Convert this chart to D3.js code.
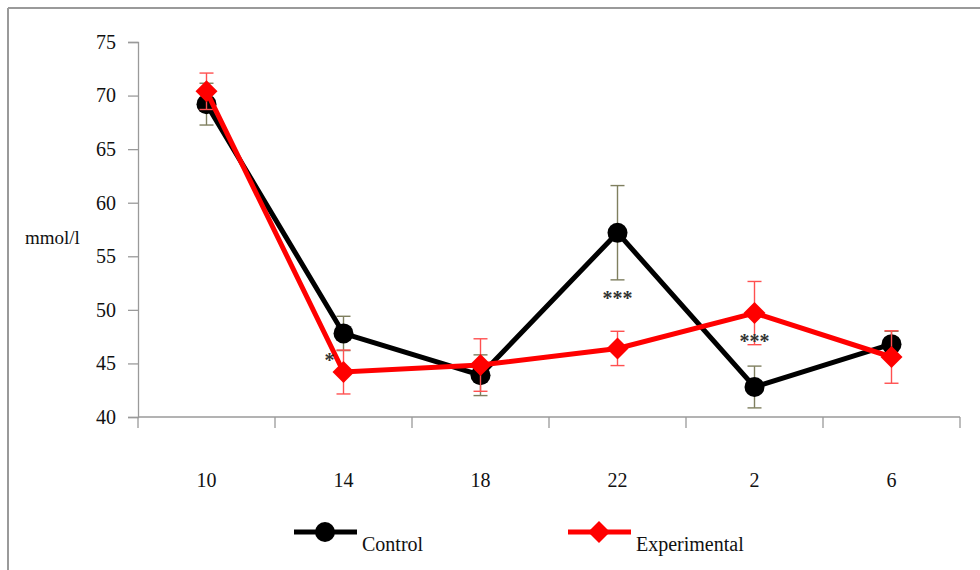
<!DOCTYPE html>
<html><head><meta charset="utf-8">
<script src="https://cdn.jsdelivr.net/npm/d3@7"></script>
<style>
html,body{margin:0;padding:0;background:#fff;}
</style></head>
<body>
<svg id="chart" width="980" height="570"></svg>
<script>
const categories = ["10","14","18","22","2","6"];
const controlValues = [69.2, 47.8, 43.9, 57.2, 42.8, 46.8];
const controlErrors = [1.95, 1.6, 1.9, 4.4, 1.95, 1.2];
const experimentalValues = [70.4, 44.2, 44.85, 46.4, 49.7, 45.6];
const experimentalErrors = [1.7, 2.05, 2.45, 1.6, 2.95, 2.45];
const yTicks = [40, 45, 50, 55, 60, 65, 70, 75];
const annotations = [
  {cat: "14", value: 44.7, text: "*", dx: -14},
  {cat: "22", value: 50.5, text: "***", dx: 0},
  {cat: "2", value: 46.4, text: "***", dx: 0}
];
const legendItems = ["Control", "Experimental"];

const FONT = "Liberation Serif, Tinos, Times New Roman, DejaVu Serif, Noto Serif, serif";
const svg = d3.select("#chart");

// outer frame (left and top edges)
svg.append("line").attr("x1", 8).attr("y1", 8).attr("x2", 980).attr("y2", 8)
  .attr("stroke", "#9a9a9a").attr("stroke-width", 2);
svg.append("line").attr("x1", 8).attr("y1", 8).attr("x2", 8).attr("y2", 570)
  .attr("stroke", "#9a9a9a").attr("stroke-width", 2);

const x = d3.scaleBand().domain(categories).range([138, 960]);
const y = d3.scaleLinear().domain([40, 75]).range([417, 42]);
const cx = c => x(c) + x.bandwidth() / 2;

// Y axis
const yAxis = svg.append("g").attr("transform", "translate(138,0)")
  .call(d3.axisLeft(y).tickValues(yTicks).tickSize(10).tickPadding(12));
yAxis.select(".domain").attr("stroke", "#9a9a9a").attr("stroke-width", 1.3);
yAxis.selectAll(".tick line").attr("stroke", "#9a9a9a").attr("stroke-width", 1.3);
yAxis.selectAll(".tick text").attr("fill", "#111");

// X axis
const xAxis = svg.append("g").attr("transform", "translate(0,417)")
  .call(d3.axisBottom(x).tickSize(0).tickPadding(0));
xAxis.select(".domain").remove();
xAxis.selectAll(".tick text").remove();
xAxis.append("line").attr("x1", 138).attr("x2", 960).attr("y1", 0).attr("y2", 0)
  .attr("stroke", "#9a9a9a").attr("stroke-width", 1.3);
const boundaries = categories.map(c => x(c)).concat([x(categories[categories.length-1]) + x.bandwidth()]);
xAxis.selectAll("line.bt").data(boundaries).enter().append("line")
  .attr("class", "bt").attr("x1", d => d).attr("x2", d => d).attr("y1", 0).attr("y2", 11)
  .attr("stroke", "#9a9a9a").attr("stroke-width", 1.3);
svg.selectAll("text.xl").data(categories).enter().append("text")
  .attr("class", "xl").attr("x", d => cx(d)).attr("y", 487)
  .attr("text-anchor", "middle").attr("fill", "#111").text(d => d);

// Y label
svg.append("text").attr("class", "yl").attr("x", 25).attr("y", 244).attr("fill", "#111").text("mmol/l");

function drawErrors(vals, errs, color) {
  const g = svg.append("g").attr("stroke", color).attr("stroke-width", 1.4);
  categories.forEach((c, i) => {
    const xc = cx(c);
    const y1 = y(vals[i] + errs[i]), y2 = y(vals[i] - errs[i]);
    g.append("line").attr("x1", xc).attr("x2", xc).attr("y1", y1).attr("y2", y2);
    g.append("line").attr("x1", xc - 7).attr("x2", xc + 7).attr("y1", y1).attr("y2", y1);
    g.append("line").attr("x1", xc - 7).attr("x2", xc + 7).attr("y1", y2).attr("y2", y2);
  });
}
const line = d3.line().x((d, i) => cx(categories[i])).y(d => y(d));

// Control
drawErrors(controlValues, controlErrors, "#7f7f5f");
svg.append("path").datum(controlValues).attr("d", line).attr("fill", "none")
  .attr("stroke", "#000").attr("stroke-width", 5).attr("stroke-linejoin", "miter");
svg.selectAll("circle.ctl").data(controlValues).enter().append("circle")
  .attr("class", "ctl").attr("cx", (d, i) => cx(categories[i])).attr("cy", d => y(d))
  .attr("r", 10).attr("fill", "#000");

// Experimental
drawErrors(experimentalValues, experimentalErrors, "#ff5050");
svg.append("path").datum(experimentalValues).attr("d", line).attr("fill", "none")
  .attr("stroke", "#ff0000").attr("stroke-width", 5).attr("stroke-linejoin", "miter");
const diamond = (xc, yc, s) => `M${xc},${yc - s}L${xc + s},${yc}L${xc},${yc + s}L${xc - s},${yc}Z`;
svg.selectAll("path.exp").data(experimentalValues).enter().append("path")
  .attr("class", "exp").attr("d", (d, i) => diamond(cx(categories[i]), y(d), 11))
  .attr("fill", "#ff0000");

// annotations
svg.selectAll("text.ann").data(annotations).enter().append("text")
  .attr("class", "ann").attr("x", d => cx(d.cat) + d.dx).attr("y", d => y(d.value))
  .attr("text-anchor", "middle").attr("font-weight", "bold")
  .attr("fill", "#333").text(d => d.text);

// Legend
const lg = svg.append("g");
lg.append("line").attr("x1", 294).attr("x2", 357).attr("y1", 532).attr("y2", 532)
  .attr("stroke", "#000").attr("stroke-width", 5);
lg.append("circle").attr("cx", 325).attr("cy", 532).attr("r", 10).attr("fill", "#000");
lg.append("text").attr("x", 362).attr("y", 551).attr("fill", "#111").text(legendItems[0]);
lg.append("line").attr("x1", 568).attr("x2", 631).attr("y1", 532).attr("y2", 532)
  .attr("stroke", "#ff0000").attr("stroke-width", 5);
lg.append("path").attr("d", diamond(599, 532, 11)).attr("fill", "#ff0000");
lg.append("text").attr("x", 636).attr("y", 551).attr("fill", "#111").text(legendItems[1]);

// apply font to every text element directly
svg.selectAll("text").each(function() {
  this.style.setProperty("font-family", FONT);
  this.style.setProperty("font-size", this.classList.contains("yl") ? "19px" : "20px");
});
</script>
</body></html>
